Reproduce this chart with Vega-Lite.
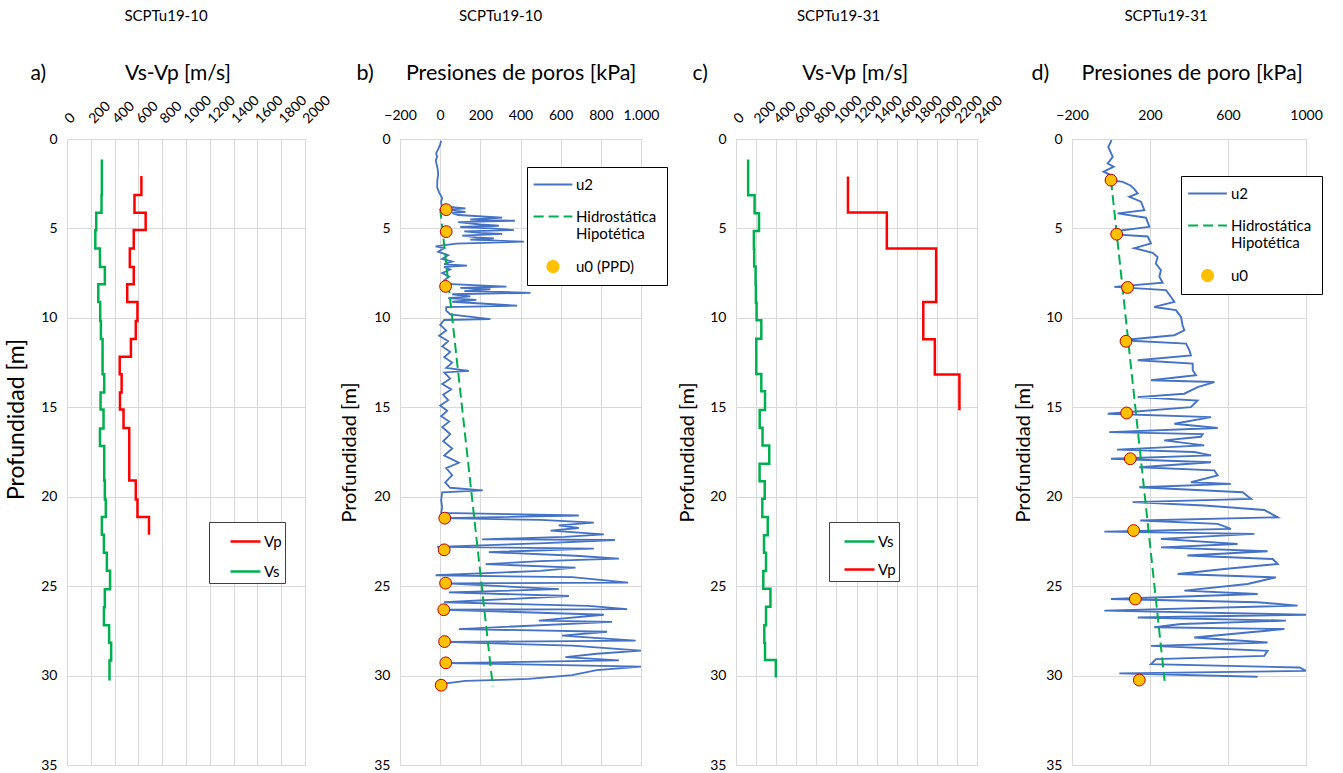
{
  "$schema": "https://vega.github.io/schema/vega-lite/v6.json",
  "padding": {"left": 5, "top": 8, "right": 5, "bottom": 0},
  "config": {
    "font": "Lato",
    "view": {"stroke": "#D9D9D9", "strokeWidth": 1},
    "axis": {"gridColor": "#D9D9D9", "gridWidth": 1, "domain": false, "ticks": false, "tickSize": 0, "labelColor": "#000", "titleColor": "#000", "labelFont": "Lato", "titleFont": "Lato", "titleFontWeight": "normal", "labelFlush": false, "labelOverlap": false},
    "title": {"font": "Lato", "fontSize": 15, "fontWeight": "normal", "color": "#000"},
    "legend": {"labelFont": "Lato", "labelFontSize": 15, "labelColor": "#000"}
  },
  "datasets": {
    "vel_a": [
      {"serie": "Vs", "depth": 1.14, "v": 293}, {"serie": "Vs", "depth": 3.13, "v": 290}, {"serie": "Vs", "depth": 4.12, "v": 246}, {"serie": "Vs", "depth": 5.1, "v": 238}, {"serie": "Vs", "depth": 6.12, "v": 277}, {"serie": "Vs", "depth": 7.15, "v": 318}, {"serie": "Vs", "depth": 8.12, "v": 263}, {"serie": "Vs", "depth": 9.12, "v": 279}, {"serie": "Vs", "depth": 10.17, "v": 285}, {"serie": "Vs", "depth": 11.18, "v": 299}, {"serie": "Vs", "depth": 13.15, "v": 313}, {"serie": "Vs", "depth": 14.18, "v": 282}, {"serie": "Vs", "depth": 15.13, "v": 307}, {"serie": "Vs", "depth": 16.18, "v": 277}, {"serie": "Vs", "depth": 17.17, "v": 313}, {"serie": "Vs", "depth": 19.1, "v": 318}, {"serie": "Vs", "depth": 20.15, "v": 326}, {"serie": "Vs", "depth": 21.14, "v": 293}, {"serie": "Vs", "depth": 22.13, "v": 310}, {"serie": "Vs", "depth": 23.13, "v": 335}, {"serie": "Vs", "depth": 24.14, "v": 362}, {"serie": "Vs", "depth": 25.17, "v": 318}, {"serie": "Vs", "depth": 26.18, "v": 310}, {"serie": "Vs", "depth": 27.18, "v": 354}, {"serie": "Vs", "depth": 28.17, "v": 371}, {"serie": "Vs", "depth": 29.16, "v": 357}, {"serie": "Vs", "depth": 30.28, "v": 357},
      {"serie": "Vp", "depth": 2.07, "v": 625}, {"serie": "Vp", "depth": 3.13, "v": 567}, {"serie": "Vp", "depth": 4.12, "v": 661}, {"serie": "Vp", "depth": 5.09, "v": 561}, {"serie": "Vp", "depth": 6.12, "v": 528}, {"serie": "Vp", "depth": 7.15, "v": 561}, {"serie": "Vp", "depth": 8.12, "v": 506}, {"serie": "Vp", "depth": 9.12, "v": 592}, {"serie": "Vp", "depth": 10.17, "v": 578}, {"serie": "Vp", "depth": 11.18, "v": 537}, {"serie": "Vp", "depth": 12.18, "v": 443}, {"serie": "Vp", "depth": 13.15, "v": 459}, {"serie": "Vp", "depth": 14.18, "v": 445}, {"serie": "Vp", "depth": 15.13, "v": 475}, {"serie": "Vp", "depth": 16.16, "v": 523}, {"serie": "Vp", "depth": 19.1, "v": 578}, {"serie": "Vp", "depth": 20.15, "v": 592}, {"serie": "Vp", "depth": 21.14, "v": 689}, {"serie": "Vp", "depth": 22.13, "v": 689}
    ],
    "vel_c": [
      {"serie": "Vs", "depth": 1.14, "v": 121}, {"serie": "Vs", "depth": 3.15, "v": 185}, {"serie": "Vs", "depth": 4.15, "v": 229}, {"serie": "Vs", "depth": 5.14, "v": 178}, {"serie": "Vs", "depth": 6.14, "v": 181}, {"serie": "Vs", "depth": 7.13, "v": 195}, {"serie": "Vs", "depth": 8.15, "v": 198}, {"serie": "Vs", "depth": 9.16, "v": 205}, {"serie": "Vs", "depth": 10.14, "v": 252}, {"serie": "Vs", "depth": 11.17, "v": 202}, {"serie": "Vs", "depth": 13.14, "v": 252}, {"serie": "Vs", "depth": 14.1, "v": 289}, {"serie": "Vs", "depth": 15.15, "v": 236}, {"serie": "Vs", "depth": 16.15, "v": 264}, {"serie": "Vs", "depth": 17.14, "v": 331}, {"serie": "Vs", "depth": 18.15, "v": 235}, {"serie": "Vs", "depth": 19.13, "v": 286}, {"serie": "Vs", "depth": 20.12, "v": 262}, {"serie": "Vs", "depth": 21.14, "v": 316}, {"serie": "Vs", "depth": 22.15, "v": 279}, {"serie": "Vs", "depth": 23.13, "v": 299}, {"serie": "Vs", "depth": 24.16, "v": 272}, {"serie": "Vs", "depth": 25.15, "v": 343}, {"serie": "Vs", "depth": 26.15, "v": 299}, {"serie": "Vs", "depth": 27.19, "v": 282}, {"serie": "Vs", "depth": 28.18, "v": 289}, {"serie": "Vs", "depth": 29.13, "v": 397}, {"serie": "Vs", "depth": 30.11, "v": 397},
      {"serie": "Vp", "depth": 2.1, "v": 1115}, {"serie": "Vp", "depth": 4.11, "v": 1502}, {"serie": "Vp", "depth": 6.12, "v": 1993}, {"serie": "Vp", "depth": 9.12, "v": 1865}, {"serie": "Vp", "depth": 11.19, "v": 1980}, {"serie": "Vp", "depth": 13.16, "v": 2225}, {"serie": "Vp", "depth": 15.17, "v": 2225}
    ],
    "u2_b": [
      {"depth": 0.1, "u": 5}, {"depth": 0.3, "u": 0}, {"depth": 0.5, "u": -7}, {"depth": 0.8, "u": -20}, {"depth": 1.0, "u": -15}, {"depth": 1.2, "u": -22}, {"depth": 1.4, "u": -18}, {"depth": 1.7, "u": -12}, {"depth": 2.0, "u": -10}, {"depth": 2.3, "u": -14}, {"depth": 2.7, "u": -15}, {"depth": 3.0, "u": -5}, {"depth": 3.3, "u": 10}, {"depth": 3.5, "u": 5}, {"depth": 3.75, "u": 8},
      {"depth": 3.88, "u": 126}, {"depth": 3.95, "u": 40}, {"depth": 4.02, "u": 80}, {"depth": 4.08, "u": 126}, {"depth": 4.15, "u": 60}, {"depth": 4.25, "u": 90}, {"depth": 4.4, "u": 309}, {"depth": 4.5, "u": 150}, {"depth": 4.57, "u": 372}, {"depth": 4.65, "u": 90}, {"depth": 4.78, "u": 200}, {"depth": 4.85, "u": 292}, {"depth": 4.92, "u": 100}, {"depth": 5.0, "u": 250}, {"depth": 5.09, "u": 367}, {"depth": 5.17, "u": 120}, {"depth": 5.25, "u": 200}, {"depth": 5.31, "u": 309}, {"depth": 5.4, "u": 110}, {"depth": 5.5, "u": 180}, {"depth": 5.56, "u": 267}, {"depth": 5.63, "u": 150}, {"depth": 5.74, "u": 417}, {"depth": 5.85, "u": 80}, {"depth": 6.0, "u": -23},
      {"depth": 6.1, "u": 20}, {"depth": 6.3, "u": -10}, {"depth": 6.5, "u": 40}, {"depth": 6.7, "u": 10}, {"depth": 6.85, "u": 60}, {"depth": 7.0, "u": 20}, {"depth": 7.08, "u": 134}, {"depth": 7.15, "u": 20}, {"depth": 7.3, "u": 50}, {"depth": 7.5, "u": 10}, {"depth": 7.7, "u": 45}, {"depth": 7.9, "u": 20}, {"depth": 8.1, "u": 30},
      {"depth": 8.25, "u": 330}, {"depth": 8.32, "u": 100}, {"depth": 8.4, "u": 250}, {"depth": 8.5, "u": 120}, {"depth": 8.6, "u": 450}, {"depth": 8.68, "u": 60}, {"depth": 8.8, "u": 150}, {"depth": 8.9, "u": 40}, {"depth": 9.0, "u": 180}, {"depth": 9.1, "u": 60}, {"depth": 9.32, "u": 383}, {"depth": 9.4, "u": 30}, {"depth": 9.6, "u": 30}, {"depth": 9.8, "u": 50}, {"depth": 10.07, "u": 250}, {"depth": 10.12, "u": 20},
      {"depth": 10.4, "u": 0}, {"depth": 10.7, "u": 30}, {"depth": 11.0, "u": -5}, {"depth": 11.3, "u": 40}, {"depth": 11.6, "u": 10}, {"depth": 11.9, "u": 50}, {"depth": 12.2, "u": 20}, {"depth": 12.5, "u": 60}, {"depth": 12.8, "u": 30}, {"depth": 12.96, "u": 143}, {"depth": 13.05, "u": 20}, {"depth": 13.4, "u": 50}, {"depth": 13.7, "u": 10}, {"depth": 14.0, "u": 55}, {"depth": 14.3, "u": 15}, {"depth": 14.6, "u": 40}, {"depth": 14.9, "u": 0}, {"depth": 15.2, "u": 35}, {"depth": 15.5, "u": 5}, {"depth": 15.8, "u": 45}, {"depth": 16.1, "u": 10}, {"depth": 16.5, "u": 50}, {"depth": 16.9, "u": 15}, {"depth": 17.3, "u": 60}, {"depth": 17.7, "u": 20}, {"depth": 18.1, "u": 93}, {"depth": 18.4, "u": 30}, {"depth": 18.8, "u": 60}, {"depth": 19.2, "u": 25}, {"depth": 19.5, "u": 50}, {"depth": 19.65, "u": 212}, {"depth": 19.75, "u": 10}, {"depth": 20.2, "u": 5}, {"depth": 20.6, "u": 10}, {"depth": 20.9, "u": 5},
      {"depth": 21.05, "u": 690}, {"depth": 21.2, "u": 20}, {"depth": 21.3, "u": 500}, {"depth": 21.45, "u": 765}, {"depth": 21.6, "u": 590}, {"depth": 21.75, "u": 690}, {"depth": 21.9, "u": 550}, {"depth": 22.1, "u": 815}, {"depth": 22.25, "u": 620}, {"depth": 22.38, "u": 209}, {"depth": 22.42, "u": 870}, {"depth": 22.6, "u": 525}, {"depth": 22.8, "u": -15}, {"depth": 22.9, "u": 765}, {"depth": 23.1, "u": 242}, {"depth": 23.3, "u": 674}, {"depth": 23.46, "u": 890}, {"depth": 23.6, "u": 500}, {"depth": 23.77, "u": 226}, {"depth": 23.96, "u": 674}, {"depth": 24.15, "u": 500}, {"depth": 24.39, "u": -23}, {"depth": 24.5, "u": 657}, {"depth": 24.8, "u": 936}, {"depth": 24.85, "u": 30}, {"depth": 25.17, "u": 591}, {"depth": 25.35, "u": 43}, {"depth": 25.55, "u": 641}, {"depth": 25.9, "u": 20}, {"depth": 26.1, "u": 740}, {"depth": 26.28, "u": 931}, {"depth": 26.32, "u": 20}, {"depth": 26.6, "u": 815}, {"depth": 26.93, "u": 491}, {"depth": 27.0, "u": 856}, {"depth": 27.4, "u": 93}, {"depth": 27.55, "u": 831}, {"depth": 27.77, "u": 607}, {"depth": 28.05, "u": 973}, {"depth": 28.12, "u": 20}, {"depth": 28.33, "u": 657}, {"depth": 28.6, "u": 1000}, {"depth": 28.78, "u": 780}, {"depth": 28.97, "u": 624}, {"depth": 29.15, "u": 890}, {"depth": 29.3, "u": 30}, {"depth": 29.5, "u": 1000}, {"depth": 29.7, "u": 780}, {"depth": 29.97, "u": 657}, {"depth": 30.19, "u": 442}, {"depth": 30.3, "u": 126}, {"depth": 30.46, "u": 10}
    ],
    "u2_d": [
      {"depth": 0.06, "u": 3}, {"depth": 0.45, "u": -14}, {"depth": 1.0, "u": 9}, {"depth": 1.37, "u": -17}, {"depth": 1.55, "u": 14}, {"depth": 1.83, "u": -38}, {"depth": 2.0, "u": -5}, {"depth": 2.3, "u": 0}, {"depth": 2.4, "u": 60}, {"depth": 2.6, "u": 100}, {"depth": 2.8, "u": 120}, {"depth": 3.04, "u": 137}, {"depth": 3.23, "u": 94}, {"depth": 3.5, "u": 154}, {"depth": 3.98, "u": 171}, {"depth": 4.16, "u": 34}, {"depth": 4.4, "u": 179}, {"depth": 4.91, "u": 197}, {"depth": 5.1, "u": 60}, {"depth": 5.32, "u": 0}, {"depth": 5.45, "u": 188}, {"depth": 5.84, "u": 205}, {"depth": 6.1, "u": 120}, {"depth": 6.36, "u": 214}, {"depth": 6.6, "u": 239}, {"depth": 6.96, "u": 230}, {"depth": 7.33, "u": 256}, {"depth": 7.7, "u": 248}, {"depth": 8.04, "u": 265}, {"depth": 8.27, "u": 17}, {"depth": 8.45, "u": 282}, {"depth": 8.83, "u": 308}, {"depth": 9.11, "u": 325}, {"depth": 9.39, "u": 222}, {"depth": 9.57, "u": 333}, {"depth": 9.95, "u": 359}, {"depth": 10.41, "u": 367}, {"depth": 10.7, "u": 376}, {"depth": 10.97, "u": 325}, {"depth": 11.25, "u": 51}, {"depth": 11.44, "u": 385}, {"depth": 11.81, "u": 402}, {"depth": 12.1, "u": 410}, {"depth": 12.37, "u": 137}, {"depth": 12.56, "u": 419}, {"depth": 12.93, "u": 419}, {"depth": 13.21, "u": 436}, {"depth": 13.49, "u": 205}, {"depth": 13.59, "u": 530}, {"depth": 13.87, "u": 444}, {"depth": 14.24, "u": 376}, {"depth": 14.43, "u": 137}, {"depth": 14.62, "u": 444}, {"depth": 14.99, "u": 410}, {"depth": 15.36, "u": -17}, {"depth": 15.55, "u": 513}, {"depth": 15.92, "u": 325}, {"depth": 16.16, "u": 547}, {"depth": 16.39, "u": -9}, {"depth": 16.5, "u": 470}, {"depth": 16.65, "u": 461}, {"depth": 16.85, "u": 273}, {"depth": 17.13, "u": 478}, {"depth": 17.37, "u": 31}, {"depth": 17.5, "u": 427}, {"depth": 17.69, "u": 513}, {"depth": 17.88, "u": 0}, {"depth": 18.07, "u": 513}, {"depth": 18.35, "u": 145}, {"depth": 18.53, "u": 530}, {"depth": 18.81, "u": 547}, {"depth": 19.19, "u": 410}, {"depth": 19.28, "u": 615}, {"depth": 19.47, "u": 145}, {"depth": 19.75, "u": 675}, {"depth": 20.12, "u": 718}, {"depth": 20.3, "u": 111}, {"depth": 20.49, "u": 478}, {"depth": 20.74, "u": 786}, {"depth": 21.15, "u": 855}, {"depth": 21.33, "u": 150}, {"depth": 21.52, "u": 547}, {"depth": 21.8, "u": 615}, {"depth": 21.95, "u": -34}, {"depth": 22.08, "u": 735}, {"depth": 22.36, "u": 256}, {"depth": 22.64, "u": 649}, {"depth": 22.83, "u": 256}, {"depth": 23.05, "u": 803}, {"depth": 23.29, "u": 392}, {"depth": 23.48, "u": 829}, {"depth": 23.76, "u": 855}, {"depth": 24.04, "u": 581}, {"depth": 24.32, "u": 342}, {"depth": 24.51, "u": 846}, {"depth": 24.88, "u": 700}, {"depth": 25.25, "u": 376}, {"depth": 25.44, "u": 752}, {"depth": 25.72, "u": 0}, {"depth": 25.9, "u": 752}, {"depth": 26.09, "u": 957}, {"depth": 26.37, "u": -34}, {"depth": 26.6, "u": 1000}, {"depth": 26.75, "u": 137}, {"depth": 26.93, "u": 897}, {"depth": 27.12, "u": 359}, {"depth": 27.3, "u": 222}, {"depth": 27.4, "u": 889}, {"depth": 27.59, "u": 700}, {"depth": 27.87, "u": 427}, {"depth": 28.15, "u": 803}, {"depth": 28.34, "u": 205}, {"depth": 28.62, "u": 803}, {"depth": 28.9, "u": 786}, {"depth": 29.08, "u": 231}, {"depth": 29.36, "u": 205}, {"depth": 29.55, "u": 966}, {"depth": 29.74, "u": 1000}, {"depth": 29.88, "u": 43}, {"depth": 30.07, "u": 752}
    ],
    "hid_b": [{"depth": 3.9, "u": 0}, {"depth": 30.6, "u": 262}],
    "hid_d": [{"depth": 2.3, "u": 0}, {"depth": 30.3, "u": 275}],
    "u0_b": [{"depth": 3.95, "u": 30}, {"depth": 5.18, "u": 30}, {"depth": 8.24, "u": 27}, {"depth": 21.2, "u": 23}, {"depth": 22.97, "u": 20}, {"depth": 24.83, "u": 27}, {"depth": 26.32, "u": 18}, {"depth": 28.1, "u": 22}, {"depth": 29.29, "u": 28}, {"depth": 30.54, "u": 5}],
    "u0_d": [{"depth": 2.3, "u": 0}, {"depth": 5.32, "u": 29}, {"depth": 8.3, "u": 85}, {"depth": 11.31, "u": 77}, {"depth": 15.32, "u": 80}, {"depth": 17.88, "u": 99}, {"depth": 21.89, "u": 116}, {"depth": 25.72, "u": 125}, {"depth": 30.25, "u": 145}]
  },
  "spacing": 95,
  "bounds": "flush",
  "resolve": {"scale": {"color": "independent"}, "legend": {"color": "independent"}},
  "hconcat": [
    {
      "width": 238, "height": 626,
      "title": {"text": "SCPTu19-10", "dx": -20, "offset": 38},
      "data": {"name": "vel_a"},
      "mark": {"type": "line", "interpolate": "step-before", "strokeWidth": 2.5},
      "encoding": {
        "x": {"field": "v", "type": "quantitative", "scale": {"domain": [0, 2000], "nice": false},
          "axis": {"orient": "top", "values": [0, 200, 400, 600, 800, 1000, 1200, 1400, 1600, 1800, 2000], "format": "d", "labelAngle": -45, "labelAlign": "left", "labelBaseline": "middle", "labelPadding": 18, "labelFontSize": 14,
            "title": "a)\u2003\u2003\u2003\u2003\u2003Vs-Vp [m/s]", "titleFontSize": 21, "titleAlign": "left", "titleAnchor": "start", "titleX": -37, "titleY": -66, "titleBaseline": "middle"}},
        "y": {"field": "depth", "type": "quantitative", "scale": {"domain": [0, 35], "reverse": true, "nice": false},
          "axis": {"values": [0, 5, 10, 15, 20, 25, 30, 35], "labelFontSize": 14, "labelPadding": 10, "title": "Profundidad [m]", "titleFontSize": 23, "titlePadding": 12, "titleY": 280}},
        "color": {"field": "serie", "type": "nominal", "scale": {"domain": ["Vp", "Vs"], "range": ["#FF0000", "#00B050"]},
          "legend": {"title": null, "orient": "none", "legendX": 142, "legendY": 383, "strokeColor": "#404040", "fillColor": "#FFFFFF", "padding": 3, "symbolOffset": 17, "symbolType": "stroke", "symbolSize": 900, "symbolStrokeWidth": 2.5, "rowPadding": 5, "labelOffset": 2, "labelExpr": "datum.label + '\u2003\u2002'"}},
        "order": {"field": "depth", "type": "quantitative"}
      }
    },
    {
      "width": 241, "height": 626,
      "title": {"text": "SCPTu19-10", "dx": -20, "offset": 38},
      "layer": [
        {
          "data": {"name": "u2_b"},
          "mark": {"type": "line", "strokeWidth": 1.8, "clip": true},
          "encoding": {
            "x": {"field": "u", "type": "quantitative", "scale": {"domain": [-200, 1000], "nice": false, "zero": false},
              "axis": {"orient": "top", "values": [-200, 0, 200, 400, 600, 800, 1000], "labelExpr": "replace(datum.label, ',', '.')", "labelFontSize": 14, "labelPadding": 17,
                "title": "b)\u2003\u2003Presiones de poros [kPa]", "titleFontSize": 21.5, "titleAlign": "left", "titleAnchor": "start", "titleX": -44, "titleY": -66, "titleBaseline": "middle"}},
            "y": {"field": "depth", "type": "quantitative", "scale": {"domain": [0, 35], "reverse": true, "nice": false},
              "axis": {"values": [0, 5, 10, 15, 20, 25, 30, 35], "labelFontSize": 14, "labelPadding": 10, "title": "Profundidad [m]", "titleFontSize": 20, "titlePadding": 14}},
            "color": {"datum": "u2", "type": "nominal", "scale": {"domain": ["u2", "Hidrostática Hipotética", "u0 (PPD)"], "range": ["#4472C4", "#00B050", "#FFC000"]},
              "legend": {"title": null, "orient": "none", "legendX": 127, "legendY": 28, "strokeColor": "#000000", "fillColor": "#FFFFFF", "padding": 10, "symbolOffset": 8.5, "symbolSize": 1500, "rowPadding": 16, "labelOffset": 15.5,
                "labelExpr": "datum.label == 'Hidrostática Hipotética' ? ['Hidrostática', 'Hipotética'] : datum.label",
                "encode": {"symbols": {
                  "enter": {"stroke": {"signal": "datum.value == 'u0 (PPD)' ? '#C00000' : (datum.value == 'u2' ? '#4472C4' : '#00B050')"}},
                  "update": {
                  "shape": {"signal": "datum.value == 'u0 (PPD)' ? 'circle' : 'stroke'"},
                  "size": {"signal": "datum.value == 'u0 (PPD)' ? 140 : 1500"},
                  "stroke": {"signal": "datum.value == 'u0 (PPD)' ? '#C00000' : (datum.value == 'u2' ? '#4472C4' : '#00B050')"},
                  "fill": {"signal": "datum.value == 'u0 (PPD)' ? '#FFC000' : 'transparent'"},
                  "strokeDash": {"signal": "datum.value == 'Hidrostática Hipotética' ? [10, 5] : [1, 0]"},
                  "strokeWidth": {"signal": "datum.value == 'u0 (PPD)' ? 1.2 : 2"},
                  "strokeOpacity": {"value": 1},
                  "opacity": {"value": 1}
                }}}}},
            "order": {"field": "depth", "type": "quantitative"}
          }
        },
        {
          "data": {"name": "hid_b"},
          "mark": {"type": "line", "strokeWidth": 2, "strokeDash": [10, 5]},
          "encoding": {
            "x": {"field": "u", "type": "quantitative"},
            "y": {"field": "depth", "type": "quantitative"},
            "color": {"datum": "Hidrostática Hipotética", "type": "nominal"}
          }
        },
        {
          "data": {"name": "u0_b"},
          "mark": {"type": "point", "filled": true, "size": 140, "stroke": "#C00000", "strokeWidth": 1, "opacity": 1},
          "encoding": {
            "x": {"field": "u", "type": "quantitative"},
            "y": {"field": "depth", "type": "quantitative"},
            "color": {"datum": "u0 (PPD)", "type": "nominal"}
          }
        }
      ]
    },
    {
      "width": 241, "height": 626,
      "title": {"text": "SCPTu19-31", "dx": -18, "offset": 38},
      "data": {"name": "vel_c"},
      "mark": {"type": "line", "interpolate": "step-before", "strokeWidth": 2.5},
      "encoding": {
        "x": {"field": "v", "type": "quantitative", "scale": {"domain": [0, 2400], "nice": false},
          "axis": {"orient": "top", "values": [0, 200, 400, 600, 800, 1000, 1200, 1400, 1600, 1800, 2000, 2200, 2400], "format": "d", "labelAngle": -45, "labelAlign": "left", "labelBaseline": "middle", "labelPadding": 18, "labelFontSize": 14,
            "title": "c)\u2003\u2003\u2003\u2003\u2003\u2003Vs-Vp [m/s]", "titleFontSize": 21, "titleAlign": "left", "titleAnchor": "start", "titleX": -44, "titleY": -66, "titleBaseline": "middle"}},
        "y": {"field": "depth", "type": "quantitative", "scale": {"domain": [0, 35], "reverse": true, "nice": false},
          "axis": {"values": [0, 5, 10, 15, 20, 25, 30, 35], "labelFontSize": 14, "labelPadding": 10, "title": "Profundidad [m]", "titleFontSize": 20, "titlePadding": 12}},
        "color": {"field": "serie", "type": "nominal", "scale": {"domain": ["Vs", "Vp"], "range": ["#00B050", "#FF0000"]},
          "legend": {"title": null, "orient": "none", "legendX": 93, "legendY": 383, "strokeColor": "#404040", "fillColor": "#FFFFFF", "padding": 3, "symbolOffset": 11, "symbolType": "stroke", "symbolSize": 900, "symbolStrokeWidth": 2.5, "rowPadding": 3, "labelOffset": 2, "labelExpr": "datum.label + '\u2003'"}},
        "order": {"field": "depth", "type": "quantitative"}
      }
    },
    {
      "width": 234, "height": 626,
      "title": {"text": "SCPTu19-31", "dx": -23, "offset": 38},
      "layer": [
        {
          "data": {"name": "u2_d"},
          "mark": {"type": "line", "strokeWidth": 1.9, "clip": true},
          "encoding": {
            "x": {"field": "u", "type": "quantitative", "scale": {"domain": [-200, 1000], "nice": false, "zero": false},
              "axis": {"orient": "top", "values": [-200, 0, 200, 400, 600, 800, 1000], "format": "d", "labelFontSize": 14, "labelPadding": 17,
                "title": "d)\u2003\u2003Presiones de poro [kPa]", "titleFontSize": 21.5, "titleAlign": "left", "titleAnchor": "start", "titleX": -41, "titleY": -66, "titleBaseline": "middle"}},
            "y": {"field": "depth", "type": "quantitative", "scale": {"domain": [0, 35], "reverse": true, "nice": false},
              "axis": {"values": [0, 5, 10, 15, 20, 25, 30, 35], "labelFontSize": 14, "labelPadding": 10, "title": "Profundidad [m]", "titleFontSize": 20, "titlePadding": 12}},
            "color": {"datum": "u2", "type": "nominal", "scale": {"domain": ["u2", "Hidrostática Hipotética", "u0"], "range": ["#4472C4", "#00B050", "#FFC000"]},
              "legend": {"title": null, "orient": "none", "legendX": 109, "legendY": 37, "strokeColor": "#000000", "fillColor": "#FFFFFF", "padding": 10, "symbolOffset": 9, "symbolSize": 1500, "rowPadding": 16, "labelOffset": 16,
                "labelExpr": "datum.label == 'Hidrostática Hipotética' ? ['Hidrostática', 'Hipotética'] : datum.label",
                "encode": {"symbols": {
                  "enter": {"stroke": {"signal": "datum.value == 'u0' ? '#C00000' : (datum.value == 'u2' ? '#4472C4' : '#00B050')"}},
                  "update": {
                  "shape": {"signal": "datum.value == 'u0' ? 'circle' : 'stroke'"},
                  "size": {"signal": "datum.value == 'u0' ? 140 : 1500"},
                  "stroke": {"signal": "datum.value == 'u0' ? '#C00000' : (datum.value == 'u2' ? '#4472C4' : '#00B050')"},
                  "fill": {"signal": "datum.value == 'u0' ? '#FFC000' : 'transparent'"},
                  "strokeDash": {"signal": "datum.value == 'Hidrostática Hipotética' ? [10, 5] : [1, 0]"},
                  "strokeWidth": {"signal": "datum.value == 'u0' ? 1.2 : 2"},
                  "strokeOpacity": {"value": 1},
                  "opacity": {"value": 1}
                }}}}},
            "order": {"field": "depth", "type": "quantitative"}
          }
        },
        {
          "data": {"name": "hid_d"},
          "mark": {"type": "line", "strokeWidth": 2, "strokeDash": [10, 5]},
          "encoding": {
            "x": {"field": "u", "type": "quantitative"},
            "y": {"field": "depth", "type": "quantitative"},
            "color": {"datum": "Hidrostática Hipotética", "type": "nominal"}
          }
        },
        {
          "data": {"name": "u0_d"},
          "mark": {"type": "point", "filled": true, "size": 140, "stroke": "#C00000", "strokeWidth": 1, "opacity": 1},
          "encoding": {
            "x": {"field": "u", "type": "quantitative"},
            "y": {"field": "depth", "type": "quantitative"},
            "color": {"datum": "u0", "type": "nominal"}
          }
        }
      ]
    }
  ]
}
